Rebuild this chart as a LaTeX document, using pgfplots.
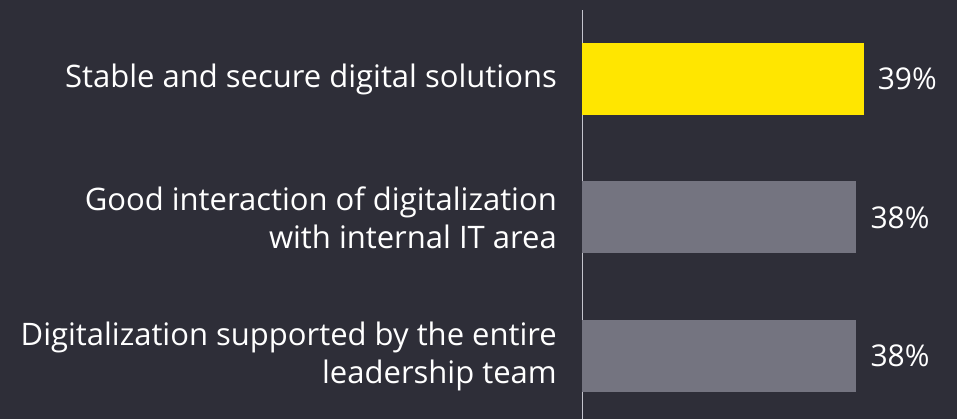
\documentclass[border=0pt]{standalone}
\usepackage{pgfplots}
\pgfplotsset{compat=1.18}
\usepackage{fontspec}
\setmainfont{Open Sans}
\definecolor{bg}{HTML}{2E2E38}
\definecolor{eyyellow}{HTML}{FFE600}
\definecolor{eygray}{HTML}{747480}
\definecolor{axisgray}{HTML}{C4C4CD}
\begin{document}
\begin{tikzpicture}
\fill[bg] (-582pt,0) rectangle (375pt,419pt);
\begin{axis}[
  at={(0,0)}, anchor=south west,
  scale only axis, width=375pt, height=409pt,
  xmin=0, xmax=51.94, ymin=-0.455, ymax=2.498,
  xbar, bar width=72pt, bar shift=0pt,
  axis x line=none,
  axis y line=left,
  y axis line style={draw=axisgray, line width=0.8pt, -},
  ytick={0,1,2}, major tick length=0pt,
  yticklabels={{Digitalization supported by the entire\\leadership team},{Good interaction of digitalization\\with internal IT area},{Stable and secure digital solutions}},
  yticklabel style={align=right, text=white, font=\fontsize{31}{38}\selectfont, inner sep=0pt, xshift=-25pt},
  nodes near coords={\pgfmathprintnumber[assume math mode=true]{\pgfplotspointmeta}\%},
  nodes near coords style={text=white, font=\fontsize{30}{34}\selectfont, anchor=west, xshift=14pt, inner sep=0pt},
  point meta=x,
  clip=false,
]
\addplot[draw=none, fill=eygray] coordinates {(38,0)};
\addplot[draw=none, fill=eygray] coordinates {(38,1)};
\addplot[draw=none, fill=eyyellow] coordinates {(39,2)};
\end{axis}
\end{tikzpicture}
\end{document}
